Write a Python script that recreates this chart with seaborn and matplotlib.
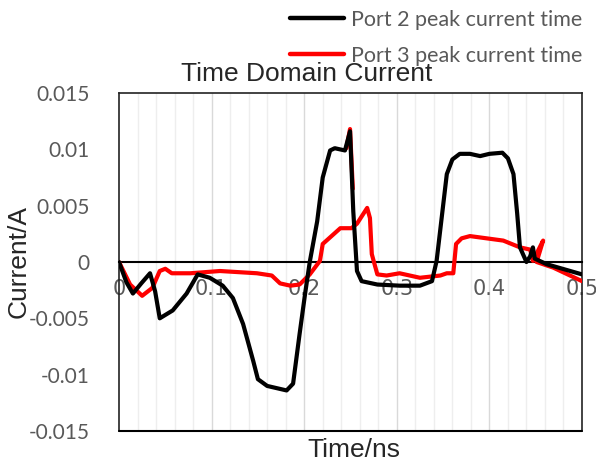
import pandas as pd
import matplotlib
matplotlib.use("Agg")
import matplotlib.pyplot as plt
from matplotlib.lines import Line2D
import seaborn as sns

# values (time in ns, current in A)
port2_time = [0, 0.008, 0.015, 0.024, 0.0335, 0.039, 0.044, 0.058, 0.073, 0.085, 0.098,
              0.112, 0.123, 0.134, 0.145, 0.15, 0.16, 0.181, 0.188, 0.195, 0.201, 0.206,
              0.214, 0.22, 0.228, 0.233, 0.244, 0.2495, 0.253, 0.257, 0.262, 0.279,
              0.303, 0.325, 0.338, 0.343, 0.349, 0.354, 0.36, 0.368, 0.379, 0.39, 0.4,
              0.414, 0.42, 0.426, 0.43, 0.433, 0.44, 0.444, 0.447, 0.449, 0.462, 0.5]
port2_current = [0, -0.0018, -0.0028, -0.0019, -0.001, -0.0026, -0.005, -0.0043, -0.0028,
                 -0.0011, -0.0014, -0.0021, -0.0032, -0.0055, -0.0088, -0.0104, -0.011,
                 -0.0114, -0.0108, -0.0064, -0.0028, 0.0, 0.0036, 0.0075, 0.0099, 0.0101,
                 0.0099, 0.0116, 0.0045, -0.0008, -0.0017, -0.002, -0.0021, -0.0021,
                 -0.0017, 0.0001, 0.0043, 0.0078, 0.0091, 0.0096, 0.0096, 0.0094, 0.0096,
                 0.0097, 0.0092, 0.0078, 0.0043, 0.0013, 0.0, 0.0005, 0.0013, 0.0003,
                 -0.0002, -0.0011]

port3_time = [0, 0.012, 0.025, 0.036, 0.044, 0.05, 0.057, 0.077, 0.109, 0.149, 0.165,
              0.174, 0.185, 0.195, 0.206, 0.217, 0.22, 0.239, 0.251, 0.257, 0.268, 0.271,
              0.273, 0.279, 0.289, 0.303, 0.325, 0.347, 0.354, 0.361, 0.364, 0.37, 0.379,
              0.397, 0.415, 0.433, 0.444, 0.447, 0.458, 0.451, 0.469, 0.5]
port3_current = [0, -0.002, -0.003, -0.0023, -0.0008, -0.0006, -0.001, -0.001, -0.0008,
                 -0.001, -0.0012, -0.0019, -0.0021, -0.002, -0.0011, 0.0001, 0.0016,
                 0.003, 0.003, 0.0034, 0.0048, 0.0039, 0.0007, -0.0011, -0.0012, -0.001,
                 -0.0014, -0.0012, -0.001, -0.001, 0.0016, 0.0021, 0.0023, 0.0021, 0.0019,
                 0.0013, 0.0011, 0.0001, 0.0019, 0.0, -0.0005, -0.0017]
# short red tip that rides on the Port 2 spike near 0.25 ns
port3_tip_time = [0.2455, 0.2495, 0.2525]
port3_tip_current = [0.0101, 0.0118, 0.0065]

series_names = ["Port 2 peak current time", "Port 3 peak current time"]
series_colors = {"Port 2 peak current time": "#000000", "Port 3 peak current time": "#ff0000"}
y_ticks = [-0.015, -0.01, -0.005, 0, 0.005, 0.01, 0.015]
y_tick_labels = ["-0.015", "-0.01", "-0.005", "0", "0.005", "0.01", "0.015"]
x_ticks = [0, 0.1, 0.2, 0.3, 0.4, 0.5]
x_tick_labels = ["0", "0.1", "0.2", "0.3", "0.4", "0.5"]

df = pd.concat([
    pd.DataFrame({"time": port3_time, "current": port3_current,
                  "series": series_names[1], "part": "main"}),
    pd.DataFrame({"time": port3_tip_time, "current": port3_tip_current,
                  "series": series_names[1], "part": "tip"}),
    pd.DataFrame({"time": port2_time, "current": port2_current,
                  "series": series_names[0], "part": "main"}),
], ignore_index=True)

sns.set_style("white")
fig = plt.figure(figsize=(5.96, 4.61), dpi=100)
ax = fig.add_axes([119 / 596, 30 / 461, 463 / 596, 338 / 461])

# vertical grid: light lines every 0.02, a bit darker at every 0.1
for i in range(1, 25):
    ax.axvline(i * 0.02, color="#d9d9d9" if i % 5 == 0 else "#eeeeee", lw=1.0, zorder=0)

# red first so the black trace sits on top of it
sns.lineplot(data=df, x="time", y="current", hue="series", palette=series_colors,
             hue_order=[series_names[1], series_names[0]], units="part",
             estimator=None, sort=False, lw=3, ax=ax, legend=False, zorder=3)

ax.set_xlim(0, 0.5)
ax.set_ylim(-0.015, 0.015)
ax.set_yticks(y_ticks, y_tick_labels)
ax.set_xticks(x_ticks, x_tick_labels)

tick_font = ["Lato", "DejaVu Sans"]
ax.tick_params(axis="both", length=0, colors="#595959", labelsize=15)
for lbl in ax.get_yticklabels() + ax.get_xticklabels():
    lbl.set_family(tick_font)
ax.tick_params(axis="y", pad=21)

# Excel-style: the category axis sits on the zero line
ax.spines["bottom"].set_position(("data", 0))
ax.spines["bottom"].set_color("black")
ax.spines["bottom"].set_linewidth(1.5)
ax.tick_params(axis="x", pad=12)
ax.axhline(-0.015, color="black", lw=1.5, clip_on=False, zorder=4)
for side in ["left", "right", "top"]:
    ax.spines[side].set_color("#222222")
    ax.spines[side].set_linewidth(1.2)

ax.set_xlabel("")
ax.set_ylabel("")
fig.text(19 / 596, 1 - 261 / 461, "Current/A", rotation=90, ha="center", va="center",
         family="Liberation Sans", fontsize=19)
fig.text(354 / 596, 1 - 450 / 461, "Time/ns", ha="center", va="center",
         family="Liberation Sans", fontsize=19)
fig.text(307 / 596, 1 - 74 / 461, "Time Domain Current", ha="center", va="center",
         family="Liberation Sans", fontsize=19)

handles = [Line2D([], [], color=series_colors[n], lw=3.2) for n in series_names]
fig.legend(handles, series_names, loc="upper right", bbox_to_anchor=(582 / 596, 1 - 10 / 461),
           frameon=False, labelcolor="#595959", handlelength=2.5, handletextpad=0.3,
           labelspacing=0.72, borderpad=0, borderaxespad=0,
           prop={"family": tick_font, "size": 15.5})

fig.savefig("out.png", dpi=100)
